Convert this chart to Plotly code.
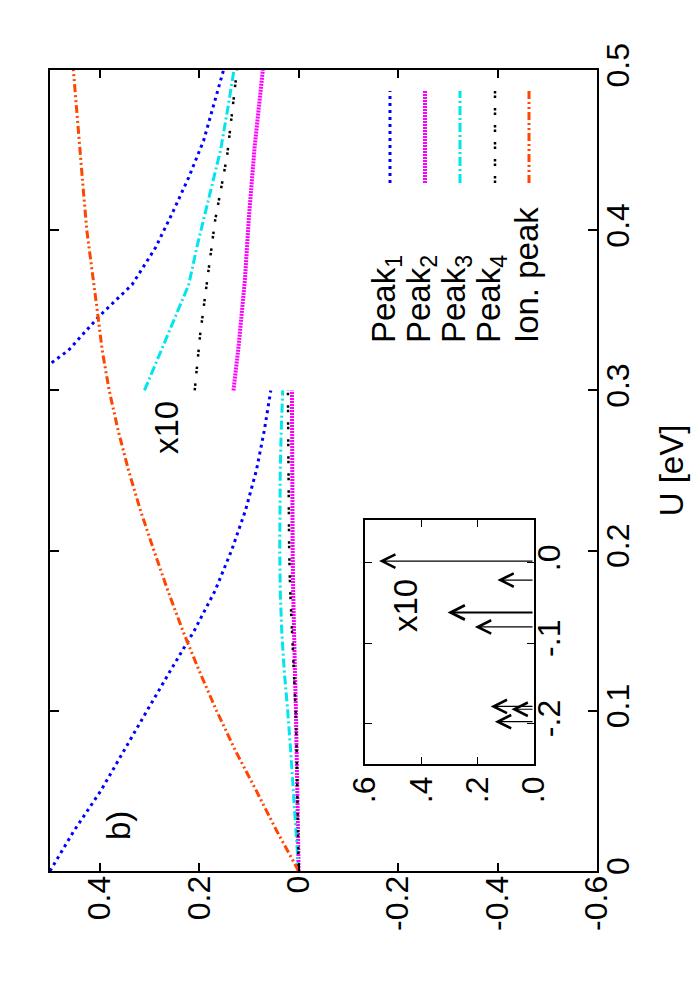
import plotly.graph_objects as go

# ---------------- data ----------------
U_main = [0, 0.025, 0.05, 0.075, 0.1, 0.125, 0.15, 0.175, 0.2, 0.225, 0.25, 0.275, 0.3]
peak1_main = [0.5, 0.452, 0.398, 0.352, 0.305, 0.258, 0.21, 0.168, 0.135, 0.107, 0.085, 0.069, 0.056]
peak2_main = [0, 0.001, 0.002, 0.0037, 0.0054, 0.0075, 0.0097, 0.011, 0.012, 0.0125, 0.013, 0.0133, 0.0135]
peak3_main = [0, 0.005, 0.010, 0.016, 0.022, 0.029, 0.034, 0.037, 0.038, 0.038, 0.037, 0.035, 0.032]
peak4_main = [0, 0.001, 0.002, 0.004, 0.006, 0.010, 0.014, 0.017, 0.019, 0.020, 0.0205, 0.021, 0.0215]

U_ion = [0, 0.025, 0.05, 0.075, 0.1, 0.125, 0.15, 0.175, 0.2, 0.225, 0.25,
         0.275, 0.3, 0.325, 0.35, 0.375, 0.4, 0.425, 0.45, 0.475, 0.5]
ion_peak = [0, 0.044, 0.085, 0.127, 0.165, 0.2, 0.233, 0.263, 0.291, 0.318, 0.342,
            0.363, 0.381, 0.395, 0.405, 0.416, 0.426, 0.433, 0.44, 0.447, 0.453]

# x10 scaled parts (values as displayed, i.e. already multiplied by 10)
U_p1_x10 = [0.3, 0.3165, 0.325, 0.346, 0.366, 0.389, 0.41, 0.433, 0.456, 0.481, 0.5]
peak1_x10 = [0.56, 0.5, 0.463, 0.402, 0.335, 0.288, 0.255, 0.221, 0.191, 0.168, 0.151]
U_p2_x10 = [0.3, 0.327, 0.369, 0.408, 0.452, 0.5]
peak2_x10 = [0.131, 0.121, 0.108, 0.1, 0.0885, 0.072]
U_p3_x10 = [0.3, 0.321, 0.348, 0.366, 0.389, 0.408, 0.43, 0.45, 0.475, 0.5]
peak3_x10 = [0.31, 0.282, 0.245, 0.221, 0.205, 0.19, 0.173, 0.157, 0.143, 0.13]
U_p4_x10 = [0.3, 0.335, 0.366, 0.406, 0.446, 0.475, 0.5]
peak4_x10 = [0.209, 0.198, 0.185, 0.168, 0.144, 0.134, 0.124]

# inset stick spectrum
inset_E = [0.002, -0.0216, -0.062, -0.080, -0.179, -0.1825, -0.198]
inset_I = [0.55, 0.130, 0.307, 0.21, 0.154, 0.080, 0.139]

main_x_ticks = [0.4, 0.2, 0, -0.2, -0.4, -0.6]
main_x_labels = ["0.4", "0.2", "0", "-0.2", "-0.4", "-0.6"]
main_y_ticks = [0, 0.1, 0.2, 0.3, 0.4, 0.5]
main_y_labels = ["0", "0.1", "0.2", "0.3", "0.4", "0.5"]
inset_x_ticks = [0, 0.2, 0.4, 0.6]
inset_x_labels = [".0", ".2", ".4", ".6"]
inset_y_ticks = [0, -0.1, -0.2]
inset_y_labels = [".0", "-.1", "-.2"]

legend_names = ["Peak<sub>1</sub>", "Peak<sub>2</sub>", "Peak<sub>3</sub>", "Peak<sub>4</sub>", "Ion. peak"]

# ---------------- styles ----------------
FONT = "Liberation Sans, Arial, Helvetica, sans-serif"
C1, C2, C3, C4, C5 = "#0000ff", "#ff00ff", "#00e5ee", "#000000", "#ff4500"
styles = [
    dict(color=C1, width=3, dash="3px,4px"),
    dict(color=C2, width=4, dash="2px,1px"),
    dict(color=C3, width=3, dash="9px,3px,2px,3px"),
    dict(color=C4, width=2.5, dash="2.5px,2px,2.5px,10px"),
    dict(color=C5, width=3, dash="8px,3px,2px,3px,2px,3px"),
]

W, H = 700, 1000
L, R, T, B = 42, 589, 62, 863  # plot frame in pixels


def px(xp):
    return (xp - L) / (R - L)


def py(yp):
    return (B - yp) / (B - T)


fig = go.Figure()

main_series = [peak1_main, peak2_main, peak3_main, peak4_main]
for vals, st in zip(main_series, styles[:4]):
    fig.add_trace(go.Scatter(x=vals, y=U_main, mode="lines", line=st,
                             showlegend=False, hoverinfo="skip"))

x10_series = [(U_p1_x10, peak1_x10), (U_p2_x10, peak2_x10),
              (U_p3_x10, peak3_x10), (U_p4_x10, peak4_x10)]
for (uu, vals), st in zip(x10_series, styles[:4]):
    fig.add_trace(go.Scatter(x=vals, y=uu, mode="lines", line=st,
                             showlegend=False, hoverinfo="skip"))

fig.add_trace(go.Scatter(x=ion_peak, y=U_ion, mode="lines", line=styles[4],
                         showlegend=False, hoverinfo="skip"))

# inset axis placeholder trace
fig.add_trace(go.Scatter(x=[None], y=[None], xaxis="x2", yaxis="y2",
                         showlegend=False, hoverinfo="skip"))

annotations = []
arrow_widths = [1.2, 1.2, 2.0, 1.2, 1.2, 1.2, 1.2]
for e, i, w in zip(inset_E, inset_I, arrow_widths):
    annotations.append(dict(
        x=i, y=e, ax=0, ay=e, xref="x2", yref="y2", axref="x2", ayref="y2",
        showarrow=True, arrowhead=5, arrowsize=2.2 if w < 1.5 else 1.4,
        arrowwidth=w, arrowcolor="black", text=""))

TXT = dict(size=33, family=FONT, color="black")
# texts
annotations.append(dict(x=px(110), y=py(818), xref="paper", yref="paper", text="b)",
                        showarrow=False, textangle=-90, font=TXT,
                        xanchor="center", yanchor="middle"))
annotations.append(dict(x=px(158), y=py(420), xref="paper", yref="paper", text="x10",
                        showarrow=False, textangle=-90, font=TXT,
                        xanchor="center", yanchor="middle"))
annotations.append(dict(x=px(397), y=py(598), xref="paper", yref="paper", text="x10",
                        showarrow=False, textangle=-90, font=TXT,
                        xanchor="center", yanchor="middle"))

# legend (rotated)
leg_text_x = [378, 413, 448, 483, 519]
leg_line_x = [382, 417, 452, 487, 521]
shapes = []
for name, tx, lx, st in zip(legend_names, leg_text_x, leg_line_x, styles):
    annotations.append(dict(x=px(tx), y=py(337), xref="paper", yref="paper", text=name,
                            showarrow=False, textangle=-90, font=TXT,
                            xanchor="center", yanchor="bottom"))
    shapes.append(dict(type="line", xref="paper", yref="paper",
                       x0=px(lx), x1=px(lx), y0=py(175), y1=py(83),
                       line=dict(color=st["color"], width=st["width"], dash=st["dash"])))

axis_common = dict(showgrid=False, zeroline=False, showline=True, linecolor="black",
                   ticks="inside", tickcolor="black", mirror="ticks")

fig.update_layout(
    width=W, height=H,
    margin=dict(l=L, r=W - R, t=T, b=H - B, autoexpand=False),
    paper_bgcolor="white", plot_bgcolor="white",
    font=dict(family=FONT, size=32, color="black"),
    xaxis=dict(range=[0.5, -0.6], tickvals=main_x_ticks, ticktext=main_x_labels,
               tickangle=-90, ticklen=8, tickwidth=1.5, linewidth=2,
               tickfont=dict(size=32), ticklabelstandoff=-10, **axis_common),
    yaxis=dict(range=[0, 0.5], side="right", tickvals=main_y_ticks, ticktext=main_y_labels,
               tickangle=-90, ticklen=9, tickwidth=1.5, linewidth=2,
               tickfont=dict(size=32), ticklabelstandoff=-8,
               title=dict(text="U [eV]", font=dict(size=33), standoff=24), **axis_common),
    xaxis2=dict(domain=[px(357), px(526)], anchor="y2", range=[0.6, 0],
                tickvals=inset_x_ticks, ticktext=inset_x_labels, tickangle=-90,
                ticklen=7, tickwidth=1.2, linewidth=1.5,
                tickfont=dict(size=32), ticklabelstandoff=-2, **axis_common),
    yaxis2=dict(domain=[py(756), py(512)], anchor="x2", side="right",
                range=[-0.2507, 0.0532], tickvals=inset_y_ticks, ticktext=inset_y_labels,
                tickangle=-90, ticklen=7, tickwidth=1.2, linewidth=1.5,
                tickfont=dict(size=32), ticklabelstandoff=-14, **axis_common),
    annotations=annotations,
    shapes=shapes,
)

fig.write_html("out.html")
